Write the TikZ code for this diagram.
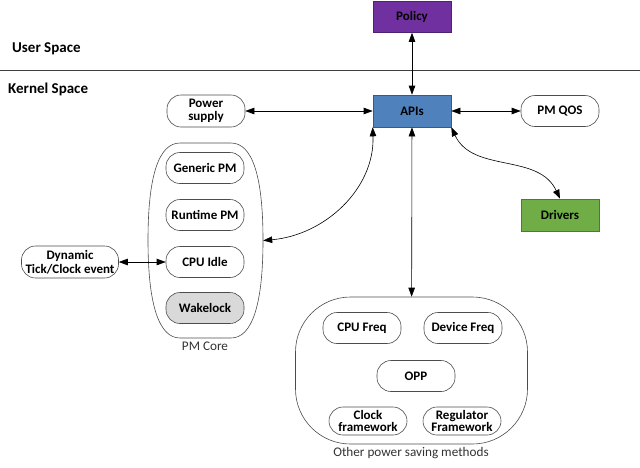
\documentclass[tikz,border=0pt]{standalone}
\usepackage{fontspec}
\setmainfont{Carlito}
\usetikzlibrary{arrows.meta}
\definecolor{policyPurple}{HTML}{7030A0}
\definecolor{apiBlue}{HTML}{4F81BD}
\definecolor{driverGreen}{HTML}{70AD47}
\begin{document}
\begin{tikzpicture}[x=1pt, y=-1pt,
    boxStyle/.style={draw=black!70, line width=0.6pt, minimum width=78pt, minimum height=31pt, inner sep=0pt,
        font=\fontsize{13}{14.5}\selectfont\bfseries, align=center},
    pillStyle/.style={boxStyle, rounded corners=14pt, fill=white},
    groupStyle/.style={draw=black!70, line width=0.6pt},
    arrowStyle/.style={{Triangle[length=9pt,width=6.5pt]}-{Triangle[length=9pt,width=6.5pt]}, black, line width=0.6pt},
    labelStyle/.style={font=\fontsize{13.2}{15}\selectfont, text=black!80},
    spaceStyle/.style={anchor=west, inner sep=0pt, font=\fontsize{15}{17}\selectfont\bfseries}]
\useasboundingbox (0,0) rectangle (640,467);

% user / kernel split
\node[spaceStyle] (user) at (12,49) {User Space};
\node[spaceStyle] (kernel) at (8,89) {Kernel Space};
\coordinate (splitL) at (0,70);
\coordinate (splitR) at (640,70);
\draw[black!75, line width=0.9pt] (splitL) -- (splitR);

\node[boxStyle, fill=policyPurple, draw=policyPurple!70!black] (policy) at (412,17) {Policy};
\node[boxStyle, fill=apiBlue, draw=apiBlue!70!black, minimum height=32pt] (apis) at (412,111) {APIs};
\node[pillStyle, minimum height=32pt] (power) at (206,111) {Power\\[-1pt]supply};
\node[pillStyle] (pmqos) at (560,111) {PM QOS};
\node[boxStyle, fill=driverGreen, draw=driverGreen!70!black, minimum height=32pt] (drivers) at (560,215) {Drivers};

% PM core
\node[minimum width=115pt, minimum height=195pt] (pmcore) at (205.5,240.5) {};
\draw[groupStyle] (180,143) -- (231,143) .. controls (252,143) and (263,175) .. (263,240)
    .. controls (263,305) and (252,338) .. (231,338) -- (180,338)
    .. controls (159,338) and (148,305) .. (148,240) .. controls (148,175) and (159,143) .. (180,143) -- cycle;
\node[labelStyle] (pmcorelabel) at (205,346) {PM Core};
\node[pillStyle] (generic) at (205,168) {Generic PM};
\node[pillStyle] (runtime) at (205,215) {Runtime PM};
\node[pillStyle] (cpuidle) at (205,262) {CPU Idle};
\node[pillStyle, fill=black!15] (wakelock) at (205,308) {Wakelock};
\node[pillStyle, minimum width=97pt, minimum height=32pt] (tick) at (70,262) {Dynamic\\[-1pt]Tick/Clock event};

% other power saving methods
\node[groupStyle, rounded corners=55pt, minimum width=232pt, minimum height=147pt] (other) at (411.5,370.5) {};
\node[labelStyle] (otherlabel) at (411,453) {Other power saving methods};
\node[pillStyle] (cpufreq) at (362,328) {CPU Freq};
\node[pillStyle] (devfreq) at (463,328) {Device Freq};
\node[pillStyle] (opp) at (416,376) {OPP};
\node[pillStyle, minimum height=28pt] (clock) at (368,421) {Clock\\[-2pt]framework};
\node[pillStyle, minimum height=28pt] (regulator) at (462,421) {Regulator\\[-2pt]Framework};

% connectors
\draw[arrowStyle] (policy) -- (apis);
\draw[arrowStyle] (power) -- (apis);
\draw[arrowStyle] (apis) -- (pmqos);
\draw[arrowStyle] (tick) -- (cpuidle);
\draw[arrowStyle] (apis) -- (other);
\draw[arrowStyle] (apis.south west) to[out=-88, in=5] (pmcore.east);
\draw[arrowStyle] (apis.south east) to[out=-65, in=115] (drivers.north);
\end{tikzpicture}
\end{document}
